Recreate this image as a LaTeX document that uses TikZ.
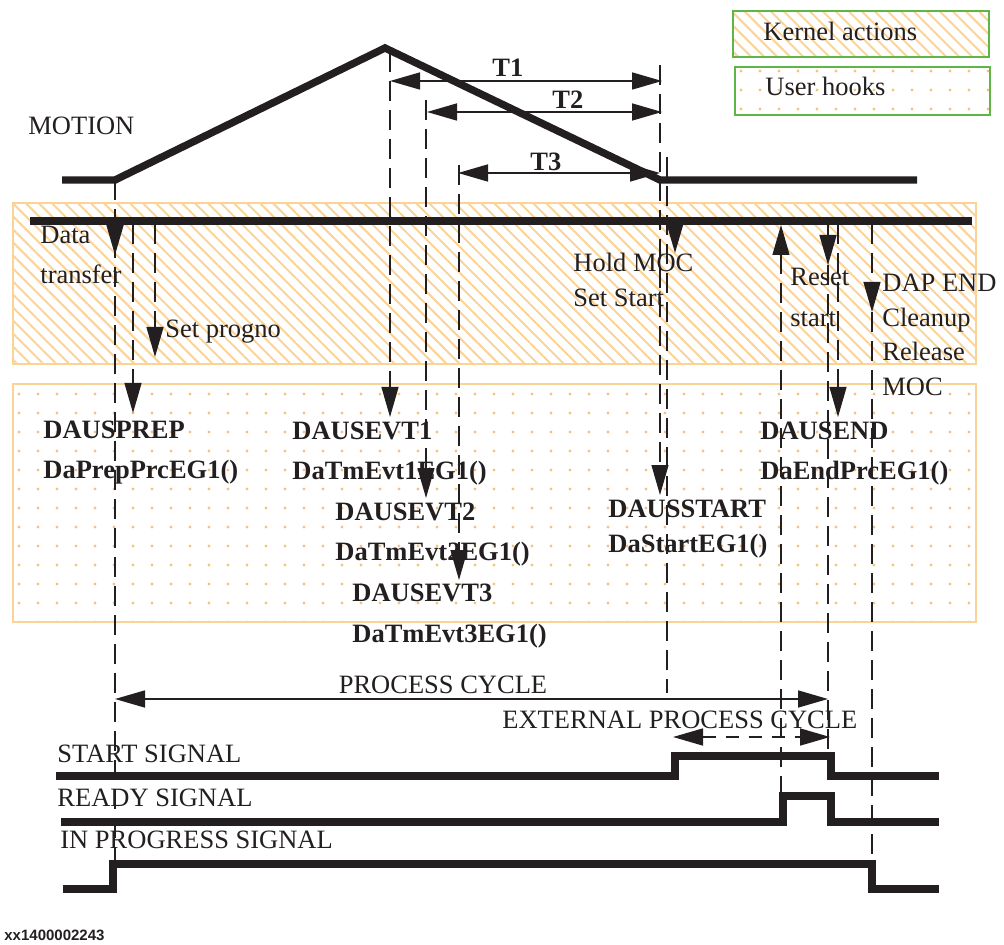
\documentclass[tikz,border=0pt]{standalone}
\usepackage{fontspec}
\setmainfont{Liberation Serif}
\setsansfont{Liberation Sans}
\usepackage{tikz}
\usetikzlibrary{positioning,arrows.meta,patterns.meta,calc}
\definecolor{ink}{HTML}{231F20}
\definecolor{peach}{HTML}{FBD397}
\definecolor{peachdot}{HTML}{F8C27A}
\definecolor{leaf}{HTML}{5DB646}
\tikzset{
  kernelfill/.style={draw=peach, line width=1.2pt,
    pattern={Lines[angle=-45, distance=4.6pt, line width=1pt]}, pattern color=peach},
  hookfill/.style={draw=peach, line width=1.2pt,
    pattern={Dots[distance=9.5pt, radius=0.85pt]}, pattern color=peachdot},
  keybox/.style={draw=leaf, line width=1.1pt},
  lbl/.style={font=\fontsize{13.25}{15}\selectfont, text=ink, inner sep=0pt, anchor=base west},
  hook/.style={lbl, font=\fontsize{13.25}{15}\selectfont\bfseries},
  heavy/.style={draw=ink, line width=3.7pt},
  sig/.style={draw=ink, line width=4pt},
  guide/.style={draw=ink, line width=0.6pt, dash pattern=on 10pt off 4.5pt},
  ar/.style={-{Triangle[length=15pt, width=8.5pt]}, draw=ink, line width=0.8pt},
  dimar/.style={{Triangle[length=15pt, width=8.5pt]}-{Triangle[length=15pt, width=8.5pt]},
                draw=ink, line width=0.8pt},
}
\begin{document}
\begin{tikzpicture}[x=0.5pt, y=-0.5pt]
\useasboundingbox (0,0) rectangle (1004,945);

% legend
\draw[kernelfill] (733,11) rectangle (989,57);
\draw[keybox] (733,11) rectangle (989,57);
\draw[hookfill] (735,67) rectangle (990,115);
\draw[keybox] (735,67) rectangle (990,115);
\node[lbl] (legk) at (763,41) {Kernel actions};
\node[lbl] (legu) at (765,96) {User hooks};

% bands
\draw[kernelfill] (13,203) rectangle (976,364);
\draw[hookfill] (13,384) rectangle (976,622);

% motion profile and kernel bar
\node[lbl] (motion) at (28,135) {MOTION};
\draw[heavy, line join=miter] (62,180) coordinate (m0) -- (115,180) coordinate (m1)
  -- (385,48) coordinate (peak) -- (660,180) coordinate (m2) -- (917,180) coordinate (m3);
\draw[heavy] (30,221) coordinate (bar0) -- (972,221) coordinate (bar1);

% T1..T3
\draw[dimar] (390,81) coordinate (t1a) -- (662,81) coordinate (t1b);
\draw[dimar] (427,112) coordinate (t2a) -- (662,112) coordinate (t2b);
\draw[dimar] (458,173) coordinate (t3a) -- (660,173) coordinate (t3b);
\node[hook] (T1) at (492,77) {T1};
\node[hook] (T2) at (552,109) {T2};
\node[hook] (T3) at (530,171) {T3};

% guides
\foreach \x/\ya/\yb in {115/180/864, 667/157/693, 828/265/756, 872/312/864}
  \draw[guide] (\x,\ya) -- (\x,\yb);
\foreach \x/\ya/\yb in {133/224/413, 155/224/357, 390/52/417, 426/100/498,
                        459/165/580, 660/65/495, 781/796/225, 838/224/417, 872/224/312}
  \draw[ar, guide] (\x,\ya) -- (\x,\yb);
\foreach \x/\yb in {115/255, 675/253, 828/265}
  \draw[ar] (\x,224) -- (\x,\yb);

% kernel actions
\node[lbl] (data) at (40,244) {Data};
\node[lbl] (xfer) at (40,284) {transfer};
\node[lbl] (progno) at (165,338) {Set progno};
\node[lbl] (hold) at (573,272) {Hold MOC};
\node[lbl] (setst) at (573,307) {Set Start};
\node[lbl] (reset) at (790,286) {Reset};
\node[lbl] (rstart) at (790,327) {start};
\node[lbl] (dapend) at (882,292) {DAP END};
\node[lbl] (clean) at (882,327) {Cleanup};
\node[lbl] (rel) at (882,361) {Release};
\node[lbl] (moc) at (882,396) {MOC};

% user hooks
\node[hook] (prep) at (43,438) {DAUSPREP};
\node[hook] (prepf) at (43,478) {DaPrepPrcEG1()};
\node[hook] (evt1) at (292,440) {DAUSEVT1};
\node[hook] (evt1f) at (292,480) {DaTmEvt1EG1()};
\node[hook] (evt2) at (335,520) {DAUSEVT2};
\node[hook] (evt2f) at (335,560) {DaTmEvt2EG1()};
\node[hook] (evt3) at (352,601) {DAUSEVT3};
\node[hook] (evt3f) at (352,642) {DaTmEvt3EG1()};
\node[hook] (start) at (608,517) {DAUSSTART};
\node[hook] (startf) at (608,552) {DaStartEG1()};
\node[hook] (endh) at (760,440) {DAUSEND};
\node[hook] (endf) at (760,480) {DaEndPrcEG1()};

% cycles
\draw[dimar] (115,699) coordinate (pc0) -- (828,699) coordinate (pc1);
\node[lbl, anchor=base] (pc) at (443,693) {PROCESS CYCLE};
\node[lbl] (epc) at (502,728) {EXTERNAL PROCESS CYCLE};
\draw[dimar, dash pattern=on 6.5pt off 5pt] (673,737) coordinate (ep0) -- (830,737) coordinate (ep1);

% signals
\node[lbl] (ssig) at (57,762) {START SIGNAL};
\draw[sig] (56,776) -- (675,776) -- (675,756) -- (831,756) -- (831,776) -- (939,776);
\node[lbl] (rsig) at (57,806) {READY SIGNAL};
\draw[sig] (61,822) -- (783,822) -- (783,796) -- (831,796) -- (831,822) -- (939,822);
\node[lbl] (psig) at (60,848) {IN PROGRESS SIGNAL};
\draw[sig] (63,889) -- (113,889) -- (113,864) -- (872,864) -- (872,889) -- (939,889);

\node[font=\sffamily\bfseries\fontsize{7.5}{9}\selectfont, text=ink, anchor=base west, inner sep=0pt]
  (ref) at (4,940) {xx1400002243};
\end{tikzpicture}
\end{document}
